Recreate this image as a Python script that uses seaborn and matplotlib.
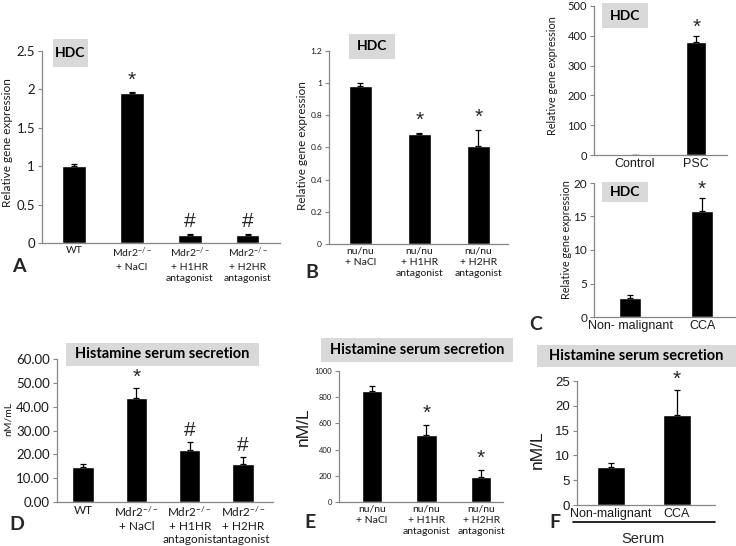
import numpy as np
import matplotlib
matplotlib.use("Agg")
import matplotlib.pyplot as plt
import seaborn as sns
from matplotlib.patches import Rectangle
from matplotlib.lines import Line2D
from matplotlib.ticker import FuncFormatter

# ---------------- data ----------------
a_cats = ["WT", "Mdr2$^{-/-}$\n+ NaCl", "Mdr2$^{-/-}$\n+ H1HR\nantagonist", "Mdr2$^{-/-}$\n+ H2HR\nantagonist"]
a_vals = [1.00, 1.955, 0.11, 0.11]
a_errs = [0.025, 0.005, 0.005, 0.005]
a_marks = ["", "*", "#", "#"]

b_cats = ["nu/nu\n+ NaCl", "nu/nu\n+ H1HR\nantagonist", "nu/nu\n+ H2HR\nantagonist"]
b_vals = [0.98, 0.685, 0.61]
b_errs = [0.02, 0.005, 0.10]
b_marks = ["", "*", "*"]

c1_cats = ["Control", "PSC"]
c1_vals = [1.0, 378]
c1_errs = [0.5, 20]
c1_marks = ["", "*"]

c2_cats = ["Non- malignant", "CCA"]
c2_vals = [2.8, 15.8]
c2_errs = [0.55, 1.9]
c2_marks = ["", "*"]

d_cats = ["WT", "Mdr2$^{-/-}$\n+ NaCl", "Mdr2$^{-/-}$\n+ H1HR\nantagonist", "Mdr2$^{-/-}$\n+ H2HR\nantagonist"]
d_vals = [14.7, 43.5, 21.8, 16.0]
d_errs = [1.4, 4.2, 3.5, 3.0]
d_marks = ["", "*", "#", "#"]

e_cats = ["nu/nu\n+ NaCl", "nu/nu\n+ H1HR\nantagonist", "nu/nu\n+ H2HR\nantagonist"]
e_vals = [845, 515, 192]
e_errs = [40, 75, 55]
e_marks = ["", "*", "*"]

f_cats = ["Non-malignant", "CCA"]
f_vals = [7.6, 18.1]
f_errs = [0.95, 5.0]
f_marks = ["", "*"]

# ---------------- style ----------------
sns.set_style("ticks")
CAL = ["Lato", "DejaVu Sans"]
ARI = ["Liberation Sans", "DejaVu Sans"]
plt.rcParams["font.family"] = CAL
plt.rcParams["mathtext.default"] = "regular"

W, H = 736, 546
fig = plt.figure(figsize=(W / 100, H / 100), dpi=100)
fig.patch.set_facecolor("white")


def add_ax(left, right, top, bottom):
    return fig.add_axes([left / W, 1 - bottom / H, (right - left) / W, (bottom - top) / H])


def fx(x):
    return x / W


def fy(y):
    return 1 - y / H


def gray_box(x0, x1, y0, y1, text, size):
    fig.add_artist(Rectangle((fx(x0), fy(y1)), (x1 - x0) / W, (y1 - y0) / H,
                             transform=fig.transFigure, facecolor="#d9d9d9",
                             edgecolor="none", zorder=0))
    fig.text(fx((x0 + x1) / 2), fy((y0 + y1) / 2), text, ha="center", va="center",
             fontsize=size, fontweight="bold", family=CAL, color="black")


def panel(box, cats, vals, errs, marks, xlim, ylim, yticks, fmt, width,
          ylabel, ylab_xy, ylab_size, ylab_font, ytick_size, ytick_font,
          xtick_size, xtick_font, mark_size=14, mark_off=2, lsp=1.35):
    ax = add_ax(*box)
    sns.barplot(x=cats, y=vals, ax=ax, color="black", width=width,
                errorbar=None, saturation=1, order=cats)
    n = len(vals)
    ax.errorbar(np.arange(n), vals, yerr=[np.zeros(n), errs], fmt="none",
                ecolor="black", elinewidth=0.9, capsize=2.5, capthick=0.9)
    for i, m in enumerate(marks):
        if m:
            ax.annotate(m, xy=(i, vals[i] + errs[i]), xytext=(0, mark_off),
                        textcoords="offset points", ha="center", va="bottom",
                        fontsize=mark_size, family=ARI)
    ax.set_xlim(*xlim)
    ax.set_ylim(*ylim)
    ax.set_yticks(yticks)
    ax.yaxis.set_major_formatter(FuncFormatter(fmt))
    for s in ["top", "right"]:
        ax.spines[s].set_visible(False)
    for s in ["left", "bottom"]:
        ax.spines[s].set_color("#868686")
        ax.spines[s].set_linewidth(0.9)
    ax.tick_params(axis="y", length=3, width=0.8, color="#868686", pad=2,
                   labelsize=ytick_size)
    ax.tick_params(axis="x", length=0, pad=2, labelsize=xtick_size)
    for t in ax.get_yticklabels():
        t.set_fontfamily(ytick_font)
        t.set_color("#1a1a1a")
    for t in ax.get_xticklabels():
        t.set_fontfamily(xtick_font)
        t.set_color("#1a1a1a")
        t.set_linespacing(lsp)
        t.set_va("top")
    ax.set_xlabel("")
    ax.set_ylabel(ylabel, fontsize=ylab_size, family=ylab_font, color="#1a1a1a")
    ax.yaxis.set_label_coords(fx(ylab_xy[0]), fy(ylab_xy[1]), transform=fig.transFigure)
    ax.yaxis.label.set_va("center")
    ax.set_facecolor("none")
    return ax


g = lambda v, p: "%g" % v
f2 = lambda v, p: "%.2f" % v
fi = lambda v, p: "%d" % v

# A
panel((42, 280, 51, 243), a_cats, a_vals, a_errs, a_marks, (-0.55, 3.56), (0, 2.5),
      np.arange(0, 2.51, 0.5), g, 0.41, "Relative gene expression", (8, 143), 8.5, CAL,
      9.5, CAL, 7.5, CAL, mark_size=15, mark_off=2, lsp=1.35)
# B
panel((329, 508, 51, 244), b_cats, b_vals, b_errs, b_marks, (-0.53, 2.5), (0, 1.2),
      np.arange(0, 1.21, 0.2), g, 0.39, "Relative gene expression", (303, 146), 8.5, CAL,
      6, CAL, 7.5, CAL, mark_size=15, mark_off=2, lsp=1.3)
# C top
panel((594, 727, 6, 155), c1_cats, c1_vals, c1_errs, c1_marks, (-0.67, 1.5), (0, 500),
      np.arange(0, 501, 100), fi, 0.33, "Relative gene expression", (553, 76), 7.8, CAL,
      8, CAL, 9, ARI, mark_size=15, mark_off=0)
# C bottom
panel((594, 736, 183, 317), c2_cats, c2_vals, c2_errs, c2_marks, (-0.5, 1.47), (0, 20),
      np.arange(0, 21, 5), fi, 0.3, "Relative gene expression", (567, 240), 7.8, CAL,
      8.5, CAL, 9, ARI, mark_size=15, mark_off=0)
# D
panel((57, 273, 359, 502), d_cats, d_vals, d_errs, d_marks, (-0.49, 3.56), (0, 60),
      np.arange(0, 61, 10), f2, 0.4, "nM/mL", (8, 419), 7.5, CAL,
      9.5, CAL, 8.5, CAL, mark_size=15, mark_off=1, lsp=1.2)
# E
panel((339, 503, 371, 502), e_cats, e_vals, e_errs, e_marks, (-0.6, 2.4), (0, 1000),
      np.arange(0, 1001, 200), fi, 0.37, "nM/L", (303, 427), 12.5, ARI,
      5.5, CAL, 7.5, CAL, mark_size=15, mark_off=1, lsp=1.3)
# F
panel((577, 715, 381, 505), f_cats, f_vals, f_errs, f_marks, (-0.52, 1.58), (0, 25),
      np.arange(0, 26, 5), fi, 0.42, "nM/L", (537, 450), 12.5, ARI,
      9.5, ARI, 9, ARI, mark_size=15, mark_off=1)

# title boxes
gray_box(53, 88, 39, 67, "HDC", 10)
gray_box(349, 395, 34, 59, "HDC", 10)
gray_box(602, 648, 3, 28, "HDC", 10)
gray_box(602, 648, 182, 202, "HDC", 10)
gray_box(66, 259, 343, 366, "Histamine serum secretion", 10.5)
gray_box(321, 513, 338, 362, "Histamine serum secretion", 10.5)
gray_box(537, 736, 345, 367, "Histamine serum secretion", 10.5)

# Serum bracket in F
fig.add_artist(Line2D([fx(573), fx(715)], [fy(522), fy(522)], transform=fig.transFigure,
                      color="black", linewidth=1.2))
fig.text(fx(643), fy(539), "Serum", ha="center", va="center", fontsize=10.5, family=ARI)

# panel letters
for letter, (x, y) in zip("ABCDEF", [(19, 267), (312, 273), (536, 325), (17, 524), (310, 522), (555, 522)]):
    fig.text(fx(x), fy(y), letter, ha="center", va="center", fontsize=14,
             fontweight="bold", family=CAL)

fig.savefig("out.png", dpi=100, facecolor="white")
